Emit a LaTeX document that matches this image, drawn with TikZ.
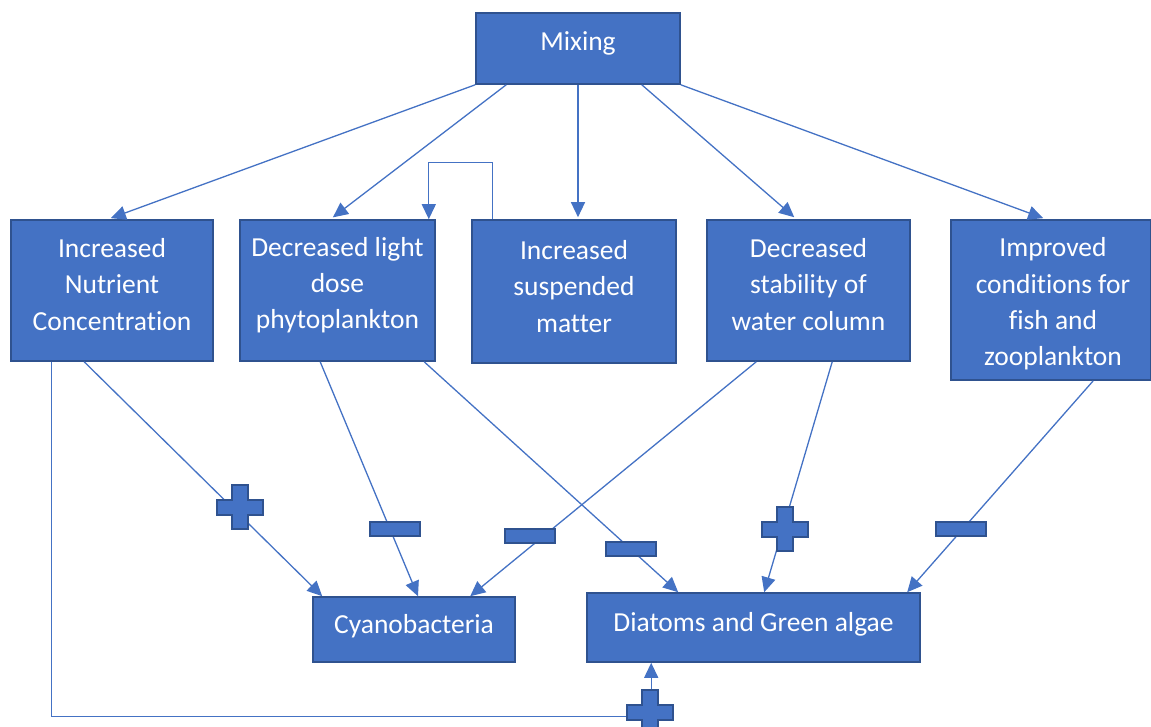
\documentclass[tikz,border=0pt]{standalone}
\usepackage{fontspec}
\setmainfont{Carlito}[Ligatures=NoCommon]
\usetikzlibrary{arrows.meta}
\definecolor{boxfill}{HTML}{4472C4}
\definecolor{boxline}{HTML}{2F528F}
\begin{document}
\begin{tikzpicture}[x=1pt,y=-1pt,
  box/.style={draw=boxline, line width=1.6pt, fill=boxfill, inner sep=0pt},
  boxtext/.style={text=white, font=\fontsize{27.5}{36.3}\selectfont, align=center, inner sep=0pt},
  conn/.style={draw=boxfill, line width=1.3pt},
  arr/.style={conn, -{Triangle[length=15pt,width=14pt]}},
  sign/.style={fill=boxfill, draw=boxline, line width=2pt},
  minussign/.style={sign, rectangle, minimum width=50pt, minimum height=14pt, inner sep=0pt},
  pics/plussign/.style={code={
    \path[sign] (-23,-7.5) -- (-8,-7.5) -- (-8,-22) -- (8,-22) -- (8,-7.5) -- (23,-7.5)
      -- (23,7.5) -- (8,7.5) -- (8,22) -- (-8,22) -- (-8,7.5) -- (-23,7.5) -- cycle;}}
]
\useasboundingbox (0,0) rectangle (1151,727);

% boxes
\node[box, minimum width=204pt, minimum height=71pt] (mix) at (578,48.5) {};
\node[box, minimum width=202pt, minimum height=141pt] (nut) at (112,290.5) {};
\node[box, minimum width=195pt, minimum height=141pt] (light) at (337.5,290.5) {};
\node[box, minimum width=204pt, minimum height=143pt] (susp) at (574,291.5) {};
\node[box, minimum width=203pt, minimum height=141pt] (stab) at (808.5,290.5) {};
\node[box, minimum width=200pt, minimum height=160pt] (imp) at (1051,300) {};
\node[box, minimum width=202pt, minimum height=65pt] (cyano) at (414,629.5) {};
\node[box, minimum width=333pt, minimum height=69pt] (diat) at (753.5,627.5) {};

% box texts
\node[boxtext] (mixt) at ([yshift=5pt]mix.center) {Mixing};
\node[boxtext] (nutt) at ([yshift=6pt]nut.center) {Increased\\Nutrient\\Concentration};
\node[boxtext] (lightt) at ([yshift=5.5pt]light.center) {Decreased light\\dose\\phytoplankton};
\node[boxtext] (suspt) at ([yshift=5pt]susp.center) {Increased\\suspended\\matter};
\node[boxtext] (stabt) at ([yshift=6pt]stab.center) {Decreased\\stability of\\water column};
\node[boxtext] (impt) at ([xshift=2pt,yshift=-4pt]imp.center) {Improved\\conditions for\\fish and\\zooplankton};
\node[boxtext] (cyanot) at ([yshift=3pt]cyano.center) {Cyanobacteria};
\node[boxtext] (diatt) at ([yshift=3pt]diat.center) {Diatoms and Green algae};

% arrows from Mixing
\draw[arr, shorten >=3pt] (mix.south west) -- ([xshift=-4pt]nut.north);
\draw[arr, shorten >=3pt] ([xshift=31pt]mix.south west) -- ([xshift=-7pt]light.north);
\draw[arr, shorten >=2pt] (mix.south) -- ([xshift=4pt]susp.north);
\draw[arr, shorten >=3pt] ([xshift=-39pt]mix.south east) -- ([xshift=-12pt]stab.north);
\draw[arr, shorten >=3pt] (mix.south east) -- ([xshift=-5pt]imp.north);

% loop
\draw[arr] ([xshift=21pt]susp.north west) -- ++(0,-57) -| ([xshift=-7pt]light.north east);

% arrows to organisms
\draw[arr] ([xshift=74pt]nut.south west) -- ([xshift=10pt]cyano.north west);
\draw[arr] ([xshift=81pt]light.south west) -- ([xshift=4pt]cyano.north);
\draw[arr] ([xshift=185pt]light.south west) -- ([xshift=92pt]diat.north west);
\draw[arr] ([xshift=50pt]stab.south west) -- ([xshift=158pt]cyano.north west);
\draw[arr] ([xshift=126pt]stab.south west) -- ([xshift=178pt]diat.north west);
\draw[arr] ([xshift=143pt]imp.south west) -- ([xshift=321pt]diat.north west);

% bottom feedback
\coordinate (corner) at ([xshift=65pt,yshift=-54pt]diat.south west);
\draw[conn] ([xshift=41pt]nut.south west) |- (corner);
\draw[arr] (corner) -- ([xshift=65pt]diat.south west);

% signs
\pic (p1) at (240,507) {plussign};
\node[minussign] (m1) at (395,529) {};
\node[minussign] (m2) at (530,536) {};
\node[minussign] (m3) at (631,549) {};
\pic (p2) at (785,529) {plussign};
\node[minussign] (m4) at (961,529) {};
\pic (p3) at (650,712) {plussign};
\end{tikzpicture}
\end{document}
